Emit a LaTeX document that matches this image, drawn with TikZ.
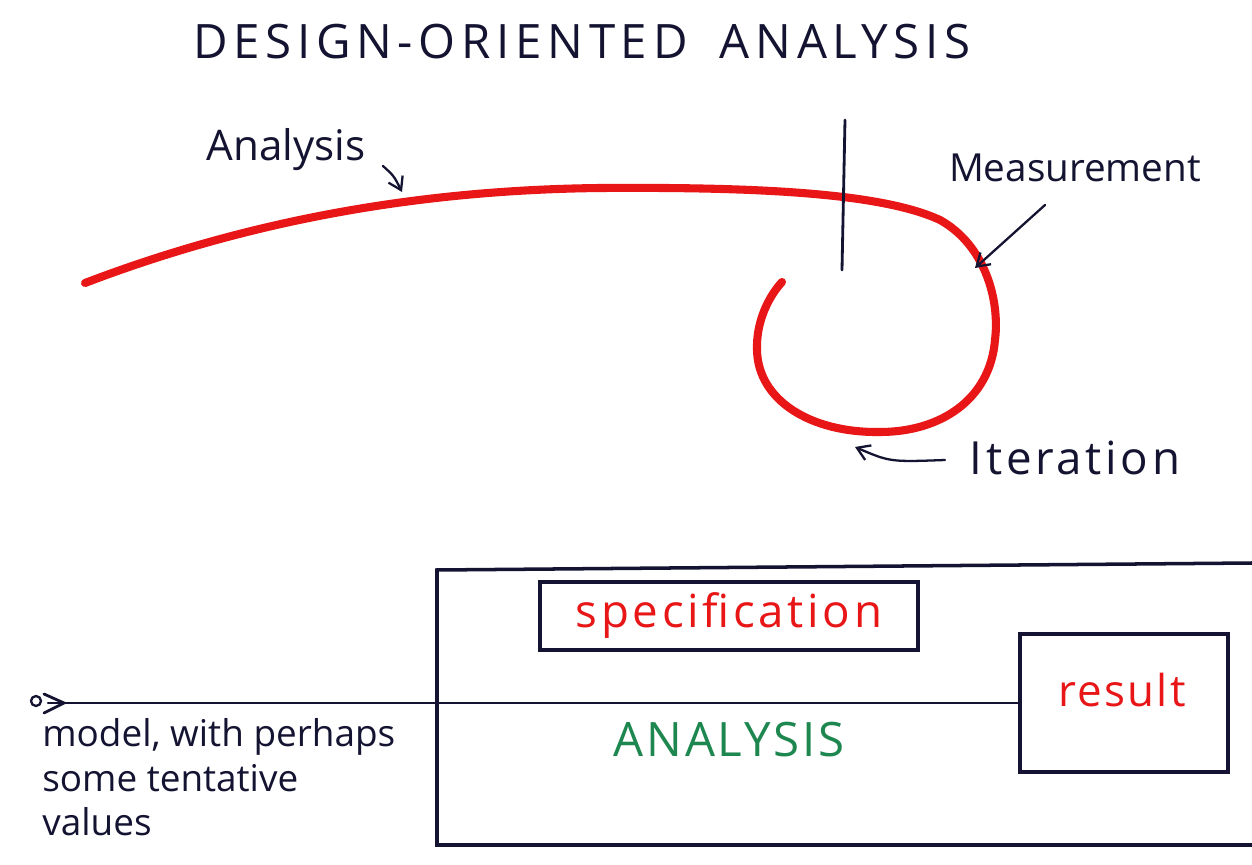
\documentclass[tikz,border=0pt]{standalone}
\usepackage{fontspec}
\setmainfont{Open Sans}
\usetikzlibrary{arrows.meta}
\definecolor{ink}{RGB}{20,20,50}
\definecolor{redink}{RGB}{232,22,22}
\definecolor{greenink}{RGB}{30,135,80}
\tikzset{
  lbl/.style={text=ink, inner sep=0pt},
  redline/.style={draw=redink, line width=4.6pt, line cap=round, line join=round},
  inkline/.style={draw=ink, line width=1.3pt, line cap=round},
  boxstyle/.style={draw=ink, line width=2pt, inner sep=0pt},
  arr/.style={inkline, -{Straight Barb[length=7pt,width=9pt]}},
}
\begin{document}
\begin{tikzpicture}[x=0.02cm, y=-0.02cm]
\useasboundingbox[fill=white] (0,0) rectangle (1252,865);
% title
\node[lbl, font=\fontsize{27}{30}\selectfont\addfontfeature{LetterSpace=12}] (title) at (582,42) {DESIGN-ORIENTED\hspace{0.3em} ANALYSIS};
% labels
\node[lbl, font=\fontsize{24}{28}\selectfont] (analysisLbl) at (286,150) {Analysis};
\node[lbl, font=\fontsize{22}{26}\selectfont] (measLbl) at (1075,168) {Measurement};
\node[lbl, font=\fontsize{26}{30}\selectfont\addfontfeature{LetterSpace=8}] (iterLbl) at (1075,458) {Iteration};
% red curve
\path[redline] (85,283) .. controls (250,220) and (420,190) .. (600,188)
  .. controls (750,187) and (880,192) .. (940,220)
  .. controls (985,245) and (1000,300) .. (995,340)
  .. controls (990,400) and (940,432) .. (880,432)
  .. controls (810,433) and (758,400) .. (757,350)
  .. controls (756,320) and (770,295) .. (782,282);
% vertical mark
\coordinate (vtop) at (845,120);
\coordinate (vbot) at (842,270);
\draw[inkline, line width=1.6pt] (vtop) -- (vbot);
% pointer arrows
\coordinate (aTail) at (383,166);
\coordinate (aHead) at (402,192);
\draw[arr] (aTail) .. controls (394,176) .. (aHead);
\coordinate (mTail) at (1045,205);
\coordinate (mHead) at (975,268);
\draw[arr] (mTail) -- (mHead);
\coordinate (iTail) at (945,460);
\coordinate (iHead) at (855,447);
\draw[arr] (iTail) .. controls (890,462) .. (iHead);
% big open box
\coordinate (bTR) at (1252,563);
\coordinate (bTL) at (437,570);
\coordinate (bBL) at (437,845);
\coordinate (bBR) at (1252,845);
\draw[inkline, line width=2pt, line cap=butt] (bTR) -- (bTL) -- (bBL) -- (bBR);
% specification box
\node[boxstyle, minimum width=7.56cm, minimum height=1.36cm, text=redink,
      font=\fontsize{26}{30}\selectfont\addfontfeature{LetterSpace=8}] (spec) at (729,616) {specification};
% result box
\node[boxstyle, minimum width=4.16cm, minimum height=2.76cm] (result) at (1124,703) {};
\node[lbl, text=redink, font=\fontsize{25}{28}\selectfont\addfontfeature{LetterSpace=5}] (resultTxt) at (1122,690) {result};
% ANALYSIS
\node[lbl, text=greenink, font=\fontsize{27}{30}\selectfont\addfontfeature{LetterSpace=6}] (analysisTxt) at (729,740) {ANALYSIS};
% input line
\node[draw=ink, circle, line width=1.3pt, minimum size=0.2cm, inner sep=0pt] (startc) at (36,701) {};
\coordinate (lineStart) at (48,703);
\draw[inkline, line width=1.2pt] (lineStart) -- (result.west);
\draw[inkline, line width=1.6pt] (44,694) -- (64,703) -- (44,713);
% model text
\node[lbl, anchor=north west, align=left, font=\fontsize{21}{25.5}\selectfont] (model) at (42,718)
  {model, with perhaps\\some tentative\\values};
\end{tikzpicture}
\end{document}
